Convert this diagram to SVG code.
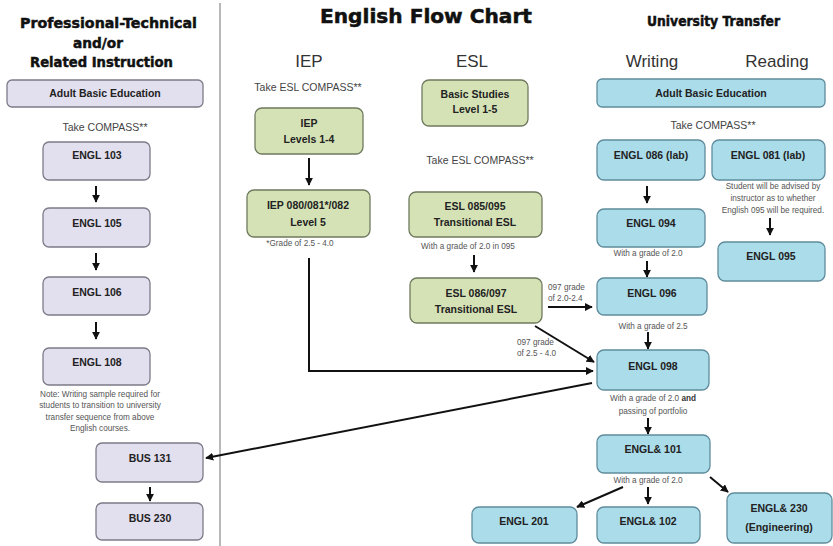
<svg xmlns="http://www.w3.org/2000/svg" width="833" height="546" viewBox="0 0 833 546">
<defs>
<marker id="ah" viewBox="0 0 10 10" refX="9" refY="5" markerWidth="8" markerHeight="8" markerUnits="userSpaceOnUse" orient="auto">
<path d="M0,0 L10,5 L0,10 z" fill="#111"/>
</marker>
<style>
.bg{fill:#ffffff}
.lav{fill:#e2dfef;stroke:#7d7b88;stroke-width:1.3}
.grn{fill:#d5e2b6;stroke:#6f7a5e;stroke-width:1.3}
.blu{fill:#abdcea;stroke:#5f8c9c;stroke-width:1.3}
.bt{font-family:"Liberation Sans",Arial,sans-serif;font-weight:bold;font-size:10.5px;fill:#222;text-anchor:middle}
.ttl{font-family:"DejaVu Sans",sans-serif;font-weight:bold;fill:#111;stroke:#111;stroke-width:0.5}
.hd{font-family:"Liberation Sans",Arial,sans-serif;font-size:17px;fill:#333;text-anchor:middle}
.tk{font-family:"Liberation Sans",Arial,sans-serif;font-size:10.5px;fill:#444;text-anchor:middle}
.sm{font-family:"Liberation Sans",Arial,sans-serif;font-size:8.2px;fill:#555;text-anchor:middle}
.sl{font-family:"Liberation Sans",Arial,sans-serif;font-size:8.2px;fill:#555}
.cn{fill:none;stroke:#111;stroke-width:2;marker-end:url(#ah)}
</style>
</defs>
<rect class="bg" x="0" y="0" width="833" height="546"/>
<line x1="220" y1="3" x2="220" y2="546" stroke="#a0a0a0" stroke-width="1.5"/>

<g id="titles">
<text class="ttl" x="20" y="28" font-size="14.5" textLength="177" lengthAdjust="spacingAndGlyphs">Professional-Technical</text>
<text class="ttl" x="73" y="48" font-size="14.5" textLength="50" lengthAdjust="spacingAndGlyphs">and/or</text>
<text class="ttl" x="30" y="67" font-size="14.5" textLength="143" lengthAdjust="spacingAndGlyphs">Related Instruction</text>
<text class="ttl" x="320" y="23" font-size="19" textLength="212" lengthAdjust="spacingAndGlyphs">English Flow Chart</text>
<text class="ttl" x="647" y="26" font-size="13.5" textLength="133" lengthAdjust="spacingAndGlyphs">University Transfer</text>
<text class="hd" x="309" y="67">IEP</text>
<text class="hd" x="472" y="67">ESL</text>
<text class="hd" x="652" y="67">Writing</text>
<text class="hd" x="777" y="67">Reading</text>
</g>

<g id="labels">
<text class="tk" x="105" y="131">Take COMPASS**</text>
<text class="tk" x="308" y="91">Take ESL COMPASS**</text>
<text class="tk" x="480" y="164">Take ESL COMPASS**</text>
<text class="tk" x="713" y="129">Take COMPASS**</text>
<text class="sm" x="100" y="397">Note: Writing sample required for</text>
<text class="sm" x="100" y="408">students to transition to university</text>
<text class="sm" x="100" y="420">transfer sequence from above</text>
<text class="sm" x="100" y="431">English courses.</text>
<text class="sm" x="300" y="246">*Grade of  2.5 - 4.0</text>
<text class="sm" x="468" y="249">With a grade of 2.0 in 095</text>
<text class="sl" x="548" y="290">097 grade</text>
<text class="sl" x="548" y="301">of 2.0-2.4</text>
<text class="sl" x="517" y="345">097 grade</text>
<text class="sl" x="517" y="356">of 2.5 - 4.0</text>
<text class="sm" x="773" y="189">Student will be advised by</text>
<text class="sm" x="773" y="201">instructor as to whether</text>
<text class="sm" x="773" y="213">English 095 will be required.</text>
<text class="sm" x="648" y="256">With a grade of 2.0</text>
<text class="sm" x="653" y="329">With a grade of 2.5</text>
<text class="sm" x="653" y="401">With a grade of 2.0 <tspan font-weight="bold" fill="#333">and</tspan></text>
<text class="sm" x="653" y="414">passing of portfolio</text>
<text class="sm" x="648" y="483">With a grade of 2.0</text>
</g>

<g id="connectors">
<line class="cn" x1="96" y1="186" x2="96" y2="202"/>
<line class="cn" x1="96" y1="253" x2="96" y2="270"/>
<line class="cn" x1="96" y1="322" x2="96" y2="339"/>
<line class="cn" x1="150" y1="487" x2="150" y2="501"/>
<line class="cn" x1="309" y1="158" x2="309" y2="185"/>
<polyline class="cn" points="309,258 309,371 593,371"/>
<line class="cn" x1="474" y1="255" x2="474" y2="272"/>
<line class="cn" x1="548" y1="307" x2="592" y2="307"/>
<line class="cn" x1="535" y1="326" x2="594" y2="362"/>
<line class="cn" x1="592" y1="383" x2="206" y2="458"/>
<line class="cn" x1="647" y1="186" x2="647" y2="203"/>
<line class="cn" x1="647" y1="261" x2="647" y2="277"/>
<line class="cn" x1="648" y1="332" x2="648" y2="349"/>
<line class="cn" x1="648" y1="418" x2="648" y2="434"/>
<line class="cn" x1="648" y1="487" x2="648" y2="504"/>
<line class="cn" x1="623" y1="487" x2="577" y2="507"/>
<line class="cn" x1="710" y1="477" x2="728" y2="492"/>
<line class="cn" x1="770" y1="218" x2="770" y2="235"/>
</g>

<g id="pt-abe"><rect class="lav" x="7" y="80" width="196" height="27" rx="5"/><text class="bt" x="105" y="97">Adult Basic Education</text></g>
<g id="engl103"><rect class="lav" x="43" y="142" width="107" height="38" rx="6"/><text class="bt" x="97" y="159">ENGL 103</text></g>
<g id="engl105"><rect class="lav" x="43" y="208" width="107" height="39" rx="6"/><text class="bt" x="97" y="227">ENGL 105</text></g>
<g id="engl106"><rect class="lav" x="43" y="277" width="107" height="38" rx="6"/><text class="bt" x="97" y="296">ENGL 106</text></g>
<g id="engl108"><rect class="lav" x="43" y="348" width="107" height="37" rx="6"/><text class="bt" x="97" y="366">ENGL 108</text></g>
<g id="bus131"><rect class="lav" x="96" y="443" width="107" height="39" rx="6"/><text class="bt" x="150" y="462">BUS 131</text></g>
<g id="bus230"><rect class="lav" x="96" y="503" width="107" height="37" rx="6"/><text class="bt" x="150" y="522">BUS 230</text></g>

<g id="iep14"><rect class="grn" x="255" y="108" width="108" height="46" rx="7"/><text class="bt" x="309" y="127">IEP</text><text class="bt" x="309" y="143">Levels 1-4</text></g>
<g id="iep080"><rect class="grn" x="247" y="190" width="123" height="47" rx="7"/><text class="bt" x="308" y="209">IEP 080/081*/082</text><text class="bt" x="308" y="226">Level 5</text></g>
<g id="basic"><rect class="grn" x="422" y="80" width="106" height="46" rx="7"/><text class="bt" x="475" y="98">Basic Studies</text><text class="bt" x="475" y="113">Level 1-5</text></g>
<g id="esl085"><rect class="grn" x="409" y="192" width="133" height="45" rx="7"/><text class="bt" x="475" y="210">ESL 085/095</text><text class="bt" x="475" y="226">Transitional ESL</text></g>
<g id="esl086"><rect class="grn" x="410" y="278" width="132" height="45" rx="7"/><text class="bt" x="476" y="297">ESL 086/097</text><text class="bt" x="476" y="313">Transitional ESL</text></g>

<g id="ut-abe"><rect class="blu" x="597" y="79" width="228" height="28" rx="5"/><text class="bt" x="711" y="97">Adult Basic Education</text></g>
<g id="engl086"><rect class="blu" x="597" y="140" width="108" height="40" rx="7"/><text class="bt" x="651" y="159">ENGL 086 (lab)</text></g>
<g id="engl081"><rect class="blu" x="712" y="140" width="113" height="40" rx="7"/><text class="bt" x="768" y="159">ENGL 081 (lab)</text></g>
<g id="engl095"><rect class="blu" x="718" y="242" width="107" height="39" rx="7"/><text class="bt" x="771" y="260">ENGL 095</text></g>
<g id="engl094"><rect class="blu" x="597" y="209" width="108" height="38" rx="7"/><text class="bt" x="651" y="227">ENGL 094</text></g>
<g id="engl096"><rect class="blu" x="597" y="278" width="110" height="37" rx="7"/><text class="bt" x="652" y="297">ENGL 096</text></g>
<g id="engl098"><rect class="blu" x="597" y="350" width="112" height="40" rx="7"/><text class="bt" x="653" y="370">ENGL 098</text></g>
<g id="engl101"><rect class="blu" x="597" y="435" width="113" height="38" rx="7"/><text class="bt" x="653" y="453">ENGL&amp; 101</text></g>
<g id="engl201"><rect class="blu" x="472" y="507" width="105" height="36" rx="7"/><text class="bt" x="524" y="525">ENGL 201</text></g>
<g id="engl102"><rect class="blu" x="597" y="507" width="103" height="36" rx="7"/><text class="bt" x="648" y="525">ENGL&amp; 102</text></g>
<g id="engl230"><rect class="blu" x="727" y="493" width="105" height="50" rx="7"/><text class="bt" x="779" y="512">ENGL&amp; 230</text><text class="bt" x="779" y="531">(Engineering)</text></g>
</svg>
